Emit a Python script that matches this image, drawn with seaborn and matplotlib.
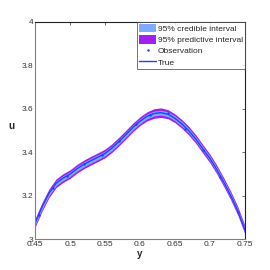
import numpy as np
import pandas as pd
import matplotlib
matplotlib.use('Agg')
import matplotlib.pyplot as plt
import seaborn as sns
from matplotlib.patches import Patch
from matplotlib.lines import Line2D

# values
y_grid = [0.45, 0.46, 0.47, 0.48, 0.49, 0.50, 0.51, 0.52, 0.53, 0.54, 0.55,
          0.56, 0.57, 0.58, 0.59, 0.60, 0.61, 0.62, 0.63, 0.64, 0.65, 0.66,
          0.67, 0.68, 0.69, 0.70, 0.71, 0.72, 0.73, 0.74, 0.75]
u_true = [3.076, 3.150, 3.213, 3.258, 3.282, 3.300, 3.325, 3.345, 3.362, 3.378, 3.395,
          3.420, 3.450, 3.482, 3.515, 3.543, 3.565, 3.578, 3.582, 3.575, 3.556, 3.530,
          3.498, 3.460, 3.415, 3.372, 3.320, 3.262, 3.200, 3.130, 3.045]
ci_half = [0.011, 0.011, 0.011, 0.011, 0.011, 0.011, 0.011, 0.011, 0.011, 0.011, 0.011,
           0.011, 0.011, 0.011, 0.011, 0.011, 0.011, 0.011, 0.011, 0.011, 0.011, 0.011,
           0.011, 0.011, 0.011, 0.011, 0.011, 0.011, 0.011, 0.011, 0.011]
pi_half = [0.020, 0.020, 0.020, 0.020, 0.020, 0.020, 0.020, 0.020, 0.020, 0.020, 0.020,
           0.020, 0.020, 0.020, 0.020, 0.020, 0.021, 0.022, 0.022, 0.021, 0.020, 0.020,
           0.020, 0.020, 0.020, 0.020, 0.020, 0.020, 0.020, 0.020, 0.020]
obs_y = [0.455, 0.475, 0.495, 0.52, 0.545, 0.57, 0.595, 0.615, 0.64, 0.665, 0.69, 0.715, 0.74]
obs_u = [3.112, 3.238, 3.292, 3.347, 3.386, 3.452, 3.532, 3.573, 3.579, 3.508, 3.413, 3.285, 3.125]

sns.set_style('white')
plt.rcParams['font.family'] = ['Liberation Sans', 'DejaVu Sans']

df = pd.DataFrame({'y': y_grid, 'u': u_true})
lo_ci = np.array(u_true) - np.array(ci_half)
hi_ci = np.array(u_true) + np.array(ci_half)
lo_pi = np.array(u_true) - np.array(pi_half)
hi_pi = np.array(u_true) + np.array(pi_half)

fig = plt.figure(figsize=(2.7, 2.7), dpi=100)
ax = fig.add_axes([0.13, 0.113, 0.777, 0.807])

pred_c = '#a020f0'
cred_c = '#7fa8ff'
line_c = '#2040ff'

ax.fill_between(y_grid, lo_pi, hi_pi, color=pred_c, lw=0)
ax.fill_between(y_grid, lo_ci, hi_ci, color=cred_c, lw=0)
sns.lineplot(data=df, x='y', y='u', ax=ax, color=line_c, lw=1.0)
ax.scatter(obs_y, obs_u, s=0.6, color=line_c, zorder=3)

ax.set_xlim(0.45, 0.75)
ax.set_ylim(3, 4)
ax.set_xticks([0.45, 0.5, 0.55, 0.6, 0.65, 0.7, 0.75])
ax.set_xticklabels(['0.45', '0.5', '0.55', '0.6', '0.65', '0.7', '0.75'])
ax.set_yticks([3, 3.2, 3.4, 3.6, 3.8, 4])
ax.set_yticklabels(['3', '3.2', '3.4', '3.6', '3.8', '4'])
ax.tick_params(direction='in', length=2, width=0.5, labelsize=6, pad=1,
               top=True, right=True, colors='#333333')
ax.set_xlabel('y', fontsize=7, fontweight='bold', labelpad=1)
ax.set_ylabel('u', fontsize=7, fontweight='bold', labelpad=8, rotation=0)
for s in ['left', 'bottom']:
    ax.spines[s].set_color('#808080')
for s in ['top', 'right']:
    ax.spines[s].set_color('#222222')
for s in ax.spines.values():
    s.set_linewidth(0.8)

handles = [Patch(facecolor=cred_c, edgecolor='none'),
           Patch(facecolor=pred_c, edgecolor='none'),
           Line2D([], [], ls='none', marker='.', ms=1.5, color=line_c),
           Line2D([], [], color=line_c, lw=1)]
labels = ['95% credible interval', '95% predictive interval', 'Observation', 'True']
leg = ax.legend(handles, labels, loc='upper right', fontsize=6, frameon=True,
                fancybox=False, borderpad=0.25, handlelength=2.0, handleheight=1.25,
                handletextpad=0.2, labelspacing=0.25, borderaxespad=0)
leg.get_frame().set_edgecolor('#333333')
leg.get_frame().set_linewidth(0.6)

fig.savefig('out.png', dpi=100)
